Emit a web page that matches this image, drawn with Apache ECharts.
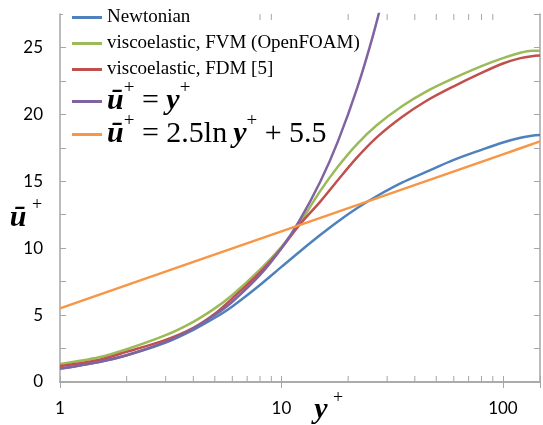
<!DOCTYPE html>
<html>
<head>
<meta charset="utf-8">
<script src="https://cdn.jsdelivr.net/npm/echarts@6/dist/echarts.min.js"></script>
<style>
  html, body { margin: 0; padding: 0; background: #fff; }
  #chart { width: 543px; height: 425px; }
</style>
</head>
<body>
<div id="chart"></div>
<script>
// Mean velocity profiles in wall units (log-scaled y+ on the horizontal axis)
const yPlus       = [1, 1.5, 2, 3, 4, 5, 6, 8, 10, 12, 15, 18, 22, 27, 35, 45, 60, 80, 100, 120, 135, 147];
const newtonian   = [1.0, 1.5, 2.0, 2.95, 3.9, 4.8, 5.65, 7.25, 8.6, 9.7, 11.0, 12.0, 13.0, 13.9, 14.9, 15.7, 16.6, 17.35, 17.9, 18.25, 18.4, 18.45];
const viscoFVM    = [1.35, 1.85, 2.45, 3.5, 4.5, 5.5, 6.5, 8.4, 10.1, 11.8, 14.3, 16.1, 17.8, 19.2, 20.6, 21.7, 22.7, 23.6, 24.2, 24.6, 24.75, 24.75];
const viscoFDM    = [1.2, 1.65, 2.25, 3.15, 4.05, 5.1, 6.25, 8.2, 10.0, 11.7, 13.5, 15.1, 16.8, 18.3, 19.8, 21.0, 22.1, 23.1, 23.8, 24.2, 24.35, 24.4];
// Viscous sublayer u+ = y+
const sublayerX   = [1, 1.5, 2, 3, 4, 5, 6, 8, 10, 12, 15, 18, 22, 26, 30];
const sublayerU   = [1, 1.5, 2, 3, 4, 5, 6, 8, 10, 12, 15, 18, 22, 26, 30];
// Log law u+ = 2.5 ln y+ + 5.5
const logLawX     = [1, 10, 100, 147];
const logLawU     = [5.5, 11.26, 17.01, 17.98];

const xMinorTicks = [2, 3, 4, 5, 6, 7, 8, 9, 20, 30, 40, 50, 60, 70, 80, 90];
const seriesNames = ['Newtonian', 'viscoelastic, FVM (OpenFOAM)', 'viscoelastic, FDM [5]', 'sublayer', 'loglaw'];
const colors = ['#4F81BD', '#9BBB59', '#C0504D', '#8064A2', '#F79646'];

const X_MIN = 1, X_MAX = 147, Y_MIN = 0, Y_MAX = 27.5;
const SERIF = '"Liberation Serif", "DejaVu Serif", serif';
const LABEL_FONT = 'Lato, "Open Sans", sans-serif';
const AXIS_GRAY = '#a6a6a6';

const zip = (xs, ys) => xs.map((x, i) => [x, ys[i]]);

const chart = echarts.init(document.getElementById('chart'), null, { renderer: 'canvas' });

const lineSeries = (name, xs, ys, color) => ({
  name, type: 'line', data: zip(xs, ys),
  smooth: 0.3, showSymbol: false, symbol: 'none',
  lineStyle: { color, width: 2.5 }, itemStyle: { color },
  xAxisIndex: 0, yAxisIndex: 0
});

const legendText = {
  'Newtonian': '{t|Newtonian}',
  'viscoelastic, FVM (OpenFOAM)': '{t|viscoelastic, FVM (OpenFOAM)}',
  'viscoelastic, FDM [5]': '{t|viscoelastic, FDM [5]}',
  'sublayer': '{u|ū}{s|+}{r| = }{u|y}{s|+}',
  'loglaw': '{u|ū}{s|+}{r| = 2.5ln\u2009}{u|y}{s|+}{r| + 5.5}'
};

// superscripts are lifted by a bottom padding on their token
const legendRich = {
  t: { fontFamily: SERIF, fontSize: 19, color: '#000' },
  u: { fontFamily: SERIF, fontSize: 30, fontStyle: 'italic', fontWeight: 'bold', color: '#000' },
  r: { fontFamily: SERIF, fontSize: 30, color: '#000' },
  s: { fontFamily: SERIF, fontSize: 19, color: '#000', padding: [0, 0, 26, 0] }
};

const legendBase = (names, top, gap) => ({
  data: names, orient: 'vertical', left: 72, top, padding: 0,
  itemGap: gap, itemWidth: 30, itemHeight: 3, icon: 'rect',
  selectedMode: false, z: 200,
  formatter: name => legendText[name],
  textStyle: { color: '#000', rich: legendRich }
});

const axisLineStyle = { lineStyle: { color: AXIS_GRAY, width: 1.5 } };
const tickStyle = { inside: true, length: 6, lineStyle: { color: AXIS_GRAY, width: 1 } };

chart.setOption({
  animation: false,
  backgroundColor: '#fff',
  color: colors,
  grid: { left: 60, right: 0, top: 14, bottom: 43, containLabel: false },
  xAxis: [
    {
      type: 'log', logBase: 10, min: X_MIN, max: X_MAX, position: 'bottom',
      axisLine: axisLineStyle, axisTick: tickStyle, splitLine: { show: false },
      axisLabel: {
        margin: 18, color: '#000', fontFamily: LABEL_FONT, fontSize: 17,
        formatter: v => ([1, 10, 100].includes(Math.round(v)) ? String(Math.round(v)) : '')
      }
    },
    {
      type: 'log', logBase: 10, min: X_MIN, max: X_MAX, position: 'top',
      axisLine: axisLineStyle, axisTick: tickStyle, splitLine: { show: false },
      axisLabel: { show: false }
    }
  ],
  yAxis: [
    {
      type: 'value', min: Y_MIN, max: Y_MAX, interval: 2.5, position: 'left',
      axisLine: { show: true, ...axisLineStyle }, axisTick: { show: true, ...tickStyle },
      splitLine: { show: false },
      axisLabel: {
        margin: 17, color: '#000', fontFamily: LABEL_FONT, fontSize: 17,
        formatter: v => (v % 5 === 0 ? String(v) : '')
      }
    },
    {
      type: 'value', min: Y_MIN, max: Y_MAX, interval: 2.5, position: 'right',
      axisLine: { show: true, ...axisLineStyle }, axisTick: { show: true, ...tickStyle },
      splitLine: { show: false }, axisLabel: { show: false }
    }
  ],
  legend: [
    legendBase(seriesNames.slice(0, 3), 8, 7),
    legendBase([seriesNames[3]], 79, 0),
    legendBase([seriesNames[4]], 112, 0)
  ],
  graphic: [
    // legend box background interrupting the top frame line
    { type: 'rect', left: 63, top: 8, shape: { width: 187, height: 12 }, style: { fill: '#fff' }, z: 100 },
    // vertical axis title
    { type: 'text', x: 18, y: 218, z: 100,
      style: { text: 'ū', font: `italic bold 30px ${SERIF}`, fill: '#000', align: 'center', verticalAlign: 'middle' } },
    { type: 'text', x: 37, y: 205, z: 100,
      style: { text: '+', font: `18px ${SERIF}`, fill: '#000', align: 'center', verticalAlign: 'middle' } },
    // horizontal axis title
    { type: 'text', x: 321, y: 410, z: 100,
      style: { text: 'y', font: `italic bold 30px ${SERIF}`, fill: '#000', align: 'center', verticalAlign: 'middle' } },
    { type: 'text', x: 338, y: 398, z: 100,
      style: { text: '+', font: `18px ${SERIF}`, fill: '#000', align: 'center', verticalAlign: 'middle' } }
  ],
  series: [
    lineSeries(seriesNames[0], yPlus, newtonian, colors[0]),
    lineSeries(seriesNames[1], yPlus, viscoFVM, colors[1]),
    lineSeries(seriesNames[2], yPlus, viscoFDM, colors[2]),
    lineSeries(seriesNames[3], sublayerX, sublayerU, colors[3]),
    lineSeries(seriesNames[4], logLawX, logLawU, colors[4]),
    {
      // minor log ticks on the bottom and top frame
      name: 'minorTicks', type: 'custom', silent: true, z: 1,
      xAxisIndex: 0, yAxisIndex: 0,
      data: xMinorTicks.map(v => [v, Y_MIN]),
      renderItem: (params, api) => {
        const x = api.value(0);
        const b = api.coord([x, Y_MIN]);
        const t = api.coord([x, Y_MAX]);
        const st = { stroke: AXIS_GRAY, lineWidth: 1 };
        return {
          type: 'group', children: [
            { type: 'line', shape: { x1: b[0], y1: b[1], x2: b[0], y2: b[1] - 6 }, style: st },
            { type: 'line', shape: { x1: t[0], y1: t[1], x2: t[0], y2: t[1] + 6 }, style: st }
          ]
        };
      }
    }
  ]
});
</script>
</body>
</html>
